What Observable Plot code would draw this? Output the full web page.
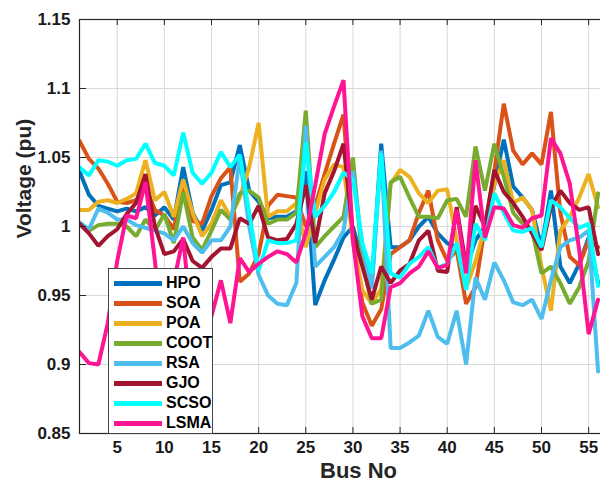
<!DOCTYPE html>
<html><head><meta charset="utf-8">
<script src="https://cdn.jsdelivr.net/npm/d3@7"></script>
<script src="https://cdn.jsdelivr.net/npm/@observablehq/plot@0.6"></script>
<style>
body{margin:0;background:#fff;font-family:Arial,"Liberation Sans",sans-serif;}
#wrap{position:relative;width:600px;height:488px;overflow:hidden;}
#wrap svg{overflow:hidden;}
#legend{position:absolute;left:108px;top:268px;width:105px;height:166px;background:#fff;border:1px solid #444;box-sizing:border-box;}
.row{position:absolute;left:5px;height:20px;display:flex;align-items:center;}
.sw{width:48px;height:5px;margin-right:4px;}
.lb{font-weight:bold;font-size:16px;color:#000;font-family:Arial,"Liberation Sans",sans-serif;}
</style></head>
<body><div id="wrap"></div>
<script>
const buses = d3.range(1, 57);
const seriesNames = ["HPO","SOA","POA","COOT","RSA","GJO","SCSO","LSMA"];
const seriesColors = ["#0072BD","#D95319","#EDB120","#77AC30","#4DBEEE","#A2142F","#00FFFF","#FF1493"];
const xTicks = [5,10,15,20,25,30,35,40,45,50,55];
const yTicks = [0.85,0.9,0.95,1,1.05,1.1,1.15];
const yTickLabels = ["0.85","0.9","0.95","1","1.05","1.1","1.15"];

const HPO = [1.040,1.023,1.015,1.013,1.011,1.013,1.011,1.014,1.008,1.014, 1.005,1.043,1.010,0.997,1.012,1.030,1.032,1.059,1.026,1.018, 1.006,1.007,1.007,1.011,1.040,0.943,0.961,0.976,0.992,1.000, 0.975,0.958,1.060,0.985,0.985,0.990,1.000,1.007,0.995,0.988, 0.985,0.970,0.990,1.000,1.030,1.063,1.029,1.021,1.012,0.985, 1.026,0.971,0.959,0.973,0.992,0.959];
const SOA = [1.062,1.049,1.042,1.031,1.018,1.017,1.019,1.029,1.012,1.008, 0.998,1.032,1.004,1.002,1.022,1.035,1.043,0.960,0.966,0.980, 1.015,1.023,1.022,1.021,1.000,1.015,1.038,1.060,1.081,0.990, 0.945,0.928,0.940,0.980,0.985,0.990,1.010,1.026,0.990,0.975, 0.983,0.944,0.956,1.000,1.040,1.089,1.055,1.045,1.053,1.045, 1.083,1.010,0.978,0.972,0.990,0.985];
const POA = [1.012,1.012,1.018,1.019,1.017,1.020,1.024,1.048,1.019,1.025, 1.007,1.034,1.010,0.993,1.002,1.019,1.007,1.021,1.043,1.075, 1.007,1.011,1.011,1.017,0.985,1.010,1.034,1.045,1.043,0.990, 0.954,0.944,0.955,1.031,1.041,1.036,1.024,1.017,1.026,1.027, 0.990,0.955,0.975,1.000,1.031,1.048,1.017,1.021,1.012,0.971, 0.939,0.997,1.007,1.021,1.038,1.014];
const COOT = [1.002,0.997,1.001,1.002,1.002,1.000,0.993,1.005,0.997,1.009, 0.988,1.025,0.992,0.983,0.997,1.012,1.005,1.024,1.026,1.021, 1.002,1.005,1.005,1.010,1.084,0.985,0.993,1.000,1.007,1.050, 0.975,0.944,0.947,1.032,1.036,1.021,1.007,1.007,1.006,1.019, 1.020,1.007,1.058,1.026,1.060,1.036,1.010,1.002,0.997,0.966, 0.971,0.959,0.944,0.956,0.975,1.024];
const RSA = [1.003,0.998,1.013,1.010,1.005,1.005,1.001,0.999,0.997,0.995, 0.990,1.000,0.988,0.981,0.990,0.990,1.000,1.050,1.000,0.965, 0.950,0.944,0.943,0.959,1.073,0.971,0.978,0.985,0.997,1.040, 0.985,0.955,1.055,0.912,0.912,0.916,0.921,0.939,0.920,0.915, 0.939,0.900,0.963,0.947,0.974,0.961,0.945,0.943,0.947,0.933, 0.961,0.985,0.990,0.992,0.997,0.895];
const GJO = [1.002,0.995,0.986,0.993,0.998,1.009,1.017,1.038,1.000,0.980, 0.982,0.991,0.975,0.970,0.978,0.984,0.984,1.006,1.002,1.015, 0.992,0.990,0.991,1.002,1.030,0.988,1.024,1.040,1.060,0.995, 0.971,0.947,0.971,0.959,0.968,0.973,0.990,0.997,0.968,0.967, 1.014,0.971,1.015,1.000,1.041,1.025,1.017,1.007,0.995,0.983, 1.014,1.026,1.017,1.012,1.014,0.980];
const SCSO = [1.043,1.037,1.048,1.047,1.044,1.048,1.049,1.060,1.046,1.044, 1.037,1.068,1.039,1.031,1.039,1.054,1.043,1.052,1.010,0.968, 0.990,0.988,0.988,0.990,1.061,1.007,1.015,1.025,1.039,1.034, 0.988,0.966,1.053,0.966,0.963,0.973,0.978,0.985,0.970,0.973, 0.988,0.954,1.002,0.990,1.024,1.010,0.997,0.996,0.999,0.985, 1.019,1.014,1.006,0.999,1.002,0.957];
const LSMA = [0.909,0.901,0.900,0.930,0.975,1.008,1.006,1.032,0.975,0.905, 0.960,0.992,0.920,0.910,0.935,0.961,0.930,0.977,0.967,0.973, 0.978,0.982,0.980,0.974,0.995,1.030,1.067,1.087,1.106,0.990, 0.935,0.919,0.919,0.956,0.959,0.966,0.971,0.982,0.970,0.972, 1.012,0.966,1.048,0.992,1.014,1.013,1.001,0.999,1.006,1.008, 1.064,1.053,1.031,0.983,0.922,0.947];

const seriesValues = [HPO,SOA,POA,COOT,RSA,GJO,SCSO,LSMA];

const lineMarks = seriesNames.map((name, k) =>
  Plot.line(buses.map((b, i) => ({bus: b, v: seriesValues[k][i], s: name})), {
    x: "bus", y: "v", stroke: seriesColors[k], strokeWidth: 4, strokeLinejoin: "miter", clip: true
  })
);

const chart = Plot.plot({
  width: 600, height: 488,
  marginLeft: 79, marginRight: -7, marginTop: 19, marginBottom: 55,
  x: {domain: [1, 57], ticks: xTicks, tickSize: 0, tickPadding: 7, label: null},
  y: {domain: [0.85, 1.15], ticks: yTicks, tickSize: 0, tickPadding: 9, tickFormat: (d, i) => yTickLabels[yTicks.indexOf(d)], label: null},
  style: {fontFamily: "Arial, 'Liberation Sans', sans-serif", fontSize: "17px", fontWeight: "bold", color: "#1a1a1a", background: "#fff"},
  marks: [
    Plot.gridX(xTicks, {stroke: "#d9d9d9", strokeOpacity: 1}),
    Plot.gridY(yTicks, {stroke: "#d9d9d9", strokeOpacity: 1}),
    ...lineMarks,
    Plot.frame({stroke: "#262626", strokeWidth: 1.2}),
    Plot.tickX(xTicks, {x: d => d, stroke: "#262626", insetBottom: 408}),
    Plot.tickX(xTicks, {x: d => d, stroke: "#262626", insetTop: 408}),
    Plot.tickY(yTicks, {y: d => d, stroke: "#262626", insetRight: 521}),
    Plot.text(["Voltage (pu)"], {frameAnchor: "left", dx: -55, dy: 12, rotate: -90, fontSize: 21, fontWeight: "bold", fill: "#262626"}),
    Plot.text(["Bus No"], {frameAnchor: "bottom", dx: 15, dy: 44, fontSize: 22, fontWeight: "bold", fill: "#262626"})
  ]
});
const wrap = document.getElementById("wrap");
wrap.appendChild(chart);

const legend = document.createElement("div");
legend.id = "legend";
seriesNames.forEach((name, k) => {
  const row = document.createElement("div");
  row.className = "row";
  row.style.top = (4 + k * 20) + "px";
  row.innerHTML = `<div class="sw" style="background:${seriesColors[k]}"></div><span class="lb">${name}</span>`;
  legend.appendChild(row);
});
wrap.appendChild(legend);
</script>
</body></html>
